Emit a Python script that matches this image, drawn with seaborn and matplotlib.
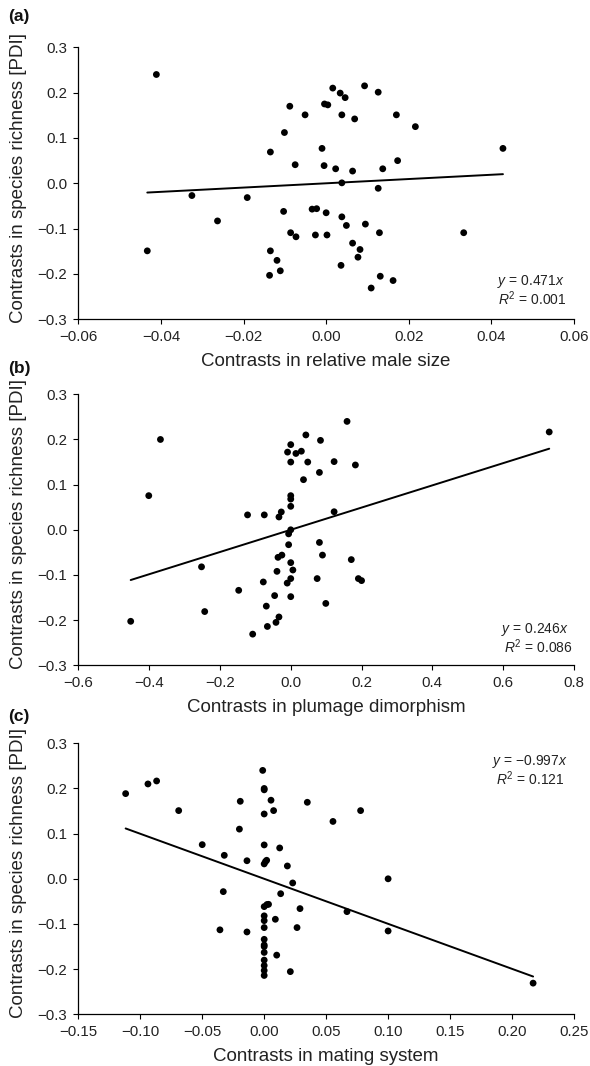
import numpy as np
import pandas as pd
import matplotlib
matplotlib.use("Agg")
import matplotlib.pyplot as plt
import seaborn as sns

# ---------------- data ----------------
# (a) relative male size
a_x = [-0.0411, -0.0433, -0.0325, -0.0263, -0.0191, -0.0135, -0.0135, -0.0137, -0.0119, -0.0111,
       -0.0103, -0.0101, -0.0088, -0.0086, -0.0075, -0.0073, -0.0051, -0.0034, -0.0023, -0.0026,
       -0.0010, -0.0005, -0.0004, 0.0004, 0.0000, 0.0002, 0.0016, 0.0023, 0.0034, 0.0038,
       0.0038, 0.0038, 0.0036, 0.0046, 0.0049, 0.0064, 0.0064, 0.0069, 0.0082, 0.0077,
       0.0093, 0.0095, 0.0109, 0.0126, 0.0126, 0.0129, 0.0131, 0.0137, 0.0162, 0.0170,
       0.0173, 0.0216, 0.0333, 0.0428]
a_y = [0.240, -0.149, -0.027, -0.083, -0.0315, 0.069, -0.149, -0.203, -0.170, -0.193,
       -0.062, 0.112, 0.170, -0.109, 0.041, -0.118, 0.151, -0.057, -0.056, -0.114,
       0.077, 0.039, 0.175, 0.173, -0.065, -0.114, 0.210, 0.032, 0.199, 0.151,
       0.001, -0.074, -0.181, 0.189, -0.093, 0.027, -0.132, 0.142, -0.146, -0.163,
       0.215, -0.090, -0.231, 0.201, -0.011, -0.109, -0.205, 0.032, -0.2145, 0.151,
       0.050, 0.125, -0.109, 0.077]
a_slope, a_r2 = 0.471, 0.001

# (b) plumage dimorphism
b_x = [-0.452, -0.401, -0.368, -0.252, -0.243, -0.147, -0.122, -0.1075, -0.0775, -0.0747,
       -0.069, -0.066, -0.0455, -0.0417, -0.0389, -0.036, -0.0333, -0.0333, -0.0267, -0.025,
       -0.009, -0.010, -0.006, -0.006, 0.0, 0.0, 0.0, 0.0, 0.0, 0.0,
       0.0, 0.0, 0.0, 0.006, 0.0146, 0.030, 0.036, 0.0427, 0.048, 0.0746,
       0.081, 0.081, 0.084, 0.0896, 0.099, 0.1225, 0.1225, 0.159, 0.171, 0.1826,
       0.191, 0.200, 0.730]
b_y = [-0.2026, 0.0756, 0.200, -0.082, -0.181, -0.134, 0.033, -0.231, -0.1155, 0.033,
       -0.169, -0.214, -0.1457, -0.205, -0.092, -0.061, -0.193, 0.0284, 0.0395, -0.056,
       0.172, -0.118, -0.033, -0.009, 0.1886, 0.150, 0.0756, 0.068, 0.052, 0.0,
       -0.0727, -0.108, -0.148, -0.089, 0.169, 0.174, 0.111, 0.210, 0.150, -0.108,
       0.127, -0.028, 0.198, -0.056, -0.163, 0.151, 0.040, 0.240, -0.066, 0.1435,
       -0.108, -0.1125, 0.2166]
b_slope, b_r2 = 0.246, 0.086

# (c) mating system
c_x = [-0.1118, -0.0938, -0.0868, -0.069, -0.050, -0.0322, -0.033, -0.0357, -0.0193, -0.020,
       -0.0139, -0.0139, -0.0012, 0.0, 0.0, 0.0, 0.0, 0.0, 0.001, 0.002,
       0.0, 0.0022, 0.0035, 0.0, 0.0, 0.0, 0.0, 0.0, 0.0, 0.0,
       0.0, 0.0, 0.0, 0.0, 0.0055, 0.0076, 0.009, 0.0101, 0.0125, 0.0133,
       0.0187, 0.0211, 0.023, 0.0265, 0.0289, 0.0348, 0.0555, 0.0668, 0.0778, 0.100,
       0.100, 0.217]
c_y = [0.1886, 0.210, 0.2166, 0.151, 0.0756, 0.052, -0.0284, -0.113, 0.1716, 0.110,
       0.040, -0.1177, 0.240, 0.200, 0.197, 0.1435, 0.075, 0.033, 0.038, 0.041,
       -0.0616, -0.057, -0.0565, -0.082, -0.0926, -0.108, -0.134, -0.1465, -0.150, -0.163,
       -0.180, -0.192, -0.203, -0.214, 0.174, 0.151, -0.0896, -0.169, 0.0683, -0.033,
       0.0284, -0.2055, -0.0092, -0.108, -0.066, 0.1694, 0.127, -0.0727, 0.151, 0.0,
       -0.1155, -0.231]
c_slope, c_r2 = -0.997, 0.121

panel_letters = ["(a)", "(b)", "(c)"]
x_labels = ["Contrasts in relative male size", "Contrasts in plumage dimorphism",
            "Contrasts in mating system"]
y_label = "Contrasts in species richness [PDI]"
y_ticks = [-0.3, -0.2, -0.1, 0.0, 0.1, 0.2, 0.3]
a_xticks = [-0.06, -0.04, -0.02, 0.00, 0.02, 0.04, 0.06]
b_xticks = [-0.6, -0.4, -0.2, 0.0, 0.2, 0.4, 0.6, 0.8]
c_xticks = [-0.15, -0.10, -0.05, 0.00, 0.05, 0.10, 0.15, 0.20, 0.25]

# ---------------- style ----------------
sns.set_style("ticks")
plt.rcParams["font.family"] = ["Liberation Sans", "DejaVu Sans"]
plt.rcParams["axes.unicode_minus"] = True
plt.rcParams["mathtext.fontset"] = "custom"
plt.rcParams["mathtext.rm"] = "Liberation Sans"
plt.rcParams["mathtext.it"] = "Liberation Sans:italic"

fig = plt.figure(figsize=(5.9, 10.66), dpi=100)
W, H = 590, 1066
boxes = [(78.3, 47.3, 574, 319.3), (78.3, 394.3, 574, 665.3), (78.3, 743.3, 574, 1014.3)]
letter_y = [17, 369, 716]

panels = [
    (a_x, a_y, a_slope, a_r2, a_xticks, "{:.2f}", (565, 285), (567, 305)),
    (b_x, b_y, b_slope, b_r2, b_xticks, "{:.1f}", (569, 633), (573, 653)),
    (c_x, c_y, c_slope, c_r2, c_xticks, "{:.2f}", (568, 765), (565, 785)),
]

def fmt(v, f):
    s = f.format(v)
    if s.startswith("-"):
        s = "\u2212" + s[1:]
    if s in ("\u22120.00", "\u22120.0"):
        s = s[1:]
    return s

for i, (xs, ys, slope, r2, xt, xf, p1, p2) in enumerate(panels):
    l, t, r, b = boxes[i]
    ax = fig.add_axes([l / W, 1 - b / H, (r - l) / W, (b - t) / H])
    df = pd.DataFrame({"x": xs, "y": ys})
    sns.scatterplot(data=df, x="x", y="y", ax=ax, color="black", s=24,
                    edgecolor="none", linewidth=0, zorder=3)
    lx = np.array([min(xs), max(xs)])
    line_df = pd.DataFrame({"x": lx, "y": slope * lx})
    sns.lineplot(data=line_df, x="x", y="y", ax=ax, color="black", lw=1.4, zorder=2)

    ax.set_xlim(xt[0], xt[-1])
    ax.set_ylim(-0.3, 0.3)
    ax.set_xticks(xt)
    ax.set_xticklabels([fmt(v, xf) for v in xt], fontsize=10.8, color="#222222")
    ax.set_yticks(y_ticks)
    ax.set_yticklabels([fmt(v, "{:.1f}") for v in y_ticks], fontsize=10.8, color="#222222")
    ax.tick_params(direction="out", length=3.5, width=0.8, pad=4.5, colors="black",
                   labelcolor="#222222")
    sns.despine(ax=ax)
    for s in ("left", "bottom"):
        ax.spines[s].set_linewidth(0.9)
        ax.spines[s].set_color("black")
    ax.set_xlabel(x_labels[i], fontsize=13.5, color="#222222")
    ax.set_ylabel(y_label, fontsize=13.5, color="#222222")
    hpx = b - t
    wpx = r - l
    ax.xaxis.label.set_va("baseline")
    ax.xaxis.set_label_coords(0.5, -47.0 / hpx)
    ax.yaxis.label.set_va("center")
    ax.yaxis.set_label_coords((19 - l) / wpx, 0.52)

    eq = r"$y$ = " + fmt(slope, "{:.3f}") + r"$x$"
    r2txt = r"$R^2$ = " + "{:.3f}".format(r2)
    fig.text(p1[0] / W, 1 - p1[1] / H, eq, ha="right", va="baseline",
             fontsize=10, color="#222222")
    fig.text(p2[0] / W, 1 - p2[1] / H, r2txt, ha="right", va="baseline",
             fontsize=10, color="#222222")
    fig.text(8 / W, 1 - letter_y[i] / H, panel_letters[i], fontsize=12.5,
             fontweight="bold", ha="left", va="center", color="#111111")

fig.savefig("out.png", dpi=100)
